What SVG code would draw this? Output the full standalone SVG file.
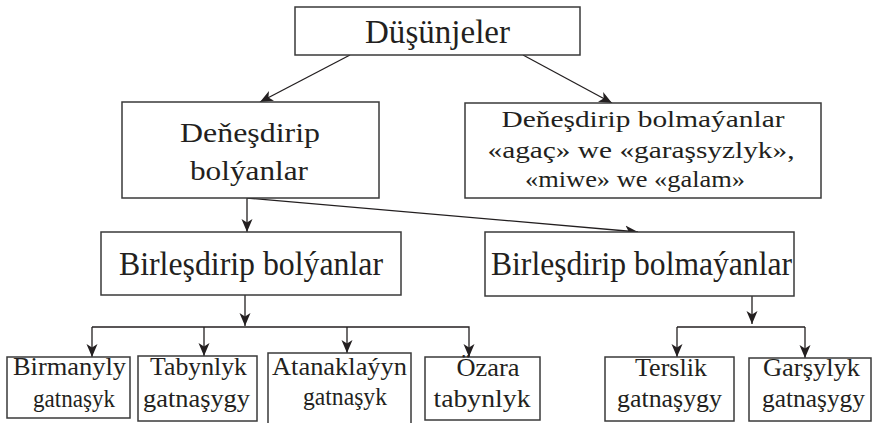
<svg xmlns="http://www.w3.org/2000/svg" width="882" height="423" viewBox="0 0 882 423">
<style>
  .box { fill: #ffffff; stroke: #3a3a3a; stroke-width: 1.5; }
  text { font-family: 'Liberation Serif', 'Times New Roman', serif; fill: #231f20; text-anchor: middle; }
  .big { font-size: 33px; }
  .mid { font-size: 28px; }
  .sm { font-size: 24.5px; }
  .xs { font-size: 24px; }
  .con { fill: none; stroke: #231f20; stroke-width: 1.3; }
</style>
<defs>
  <marker id="arr" markerUnits="userSpaceOnUse" markerWidth="14" markerHeight="12" refX="13" refY="6" orient="auto">
    <path d="M0,0.5 L13,6 L0,11.5 L3.5,6 z" fill="#231f20"/>
  </marker>
</defs>
<rect width="882" height="423" fill="#ffffff"/>

<g id="connectors">
  <line class="con" x1="350" y1="55" x2="260" y2="102" marker-end="url(#arr)"/>
  <line class="con" x1="523" y1="55" x2="612" y2="103" marker-end="url(#arr)"/>
  <line class="con" x1="247" y1="198" x2="247" y2="232" marker-end="url(#arr)"/>
  <line class="con" x1="247" y1="198" x2="638" y2="232" marker-end="url(#arr)"/>
  <line class="con" x1="245" y1="295" x2="245" y2="326" marker-end="url(#arr)"/>
  <polyline class="con" points="92,327 469,327 469,357" marker-end="url(#arr)"/>
  <line class="con" x1="92" y1="327" x2="92" y2="357" marker-end="url(#arr)"/>
  <line class="con" x1="204" y1="327" x2="204" y2="356" marker-end="url(#arr)"/>
  <line class="con" x1="347" y1="327" x2="347" y2="353" marker-end="url(#arr)"/>
  <line class="con" x1="752" y1="296" x2="752" y2="324" marker-end="url(#arr)"/>
  <line class="con" x1="677" y1="327" x2="805" y2="327"/>
  <line class="con" x1="677" y1="327" x2="677" y2="357" marker-end="url(#arr)"/>
  <line class="con" x1="805" y1="327" x2="805" y2="358" marker-end="url(#arr)"/>
</g>

<g id="n-dusunjeler">
  <rect class="box" x="295" y="7" width="285" height="48"/>
  <text class="big" x="437.5" y="43" textLength="145" lengthAdjust="spacingAndGlyphs">Düşünjeler</text>
</g>

<g id="n-denesdirip-bolyanlar">
  <rect class="box" x="122" y="102" width="257" height="96"/>
  <text class="mid" x="250" y="142" textLength="140" lengthAdjust="spacingAndGlyphs">Deňeşdirip</text>
  <text class="mid" x="249" y="180" textLength="118" lengthAdjust="spacingAndGlyphs">bolýanlar</text>
</g>

<g id="n-denesdirip-bolmayanlar">
  <rect class="box" x="465" y="103" width="356" height="95"/>
  <text class="xs" x="643" y="127" textLength="283" lengthAdjust="spacingAndGlyphs">Deňeşdirip bolmaýanlar</text>
  <text class="xs" x="641" y="158" textLength="307" lengthAdjust="spacingAndGlyphs">«agaç» we «garaşsyzlyk»,</text>
  <text class="xs" x="635" y="187" textLength="220" lengthAdjust="spacingAndGlyphs">«miwe» we «galam»</text>
</g>

<g id="n-birlesdirip-bolyanlar">
  <rect class="box" x="101" y="232" width="300" height="63"/>
  <text class="big" x="251" y="275" textLength="264" lengthAdjust="spacingAndGlyphs">Birleşdirip bolýanlar</text>
</g>

<g id="n-birlesdirip-bolmayanlar">
  <rect class="box" x="485" y="232" width="309" height="64"/>
  <text class="big" x="641.5" y="275" textLength="301" lengthAdjust="spacingAndGlyphs">Birleşdirip bolmaýanlar</text>
</g>

<g id="n-birmanyly">
  <rect class="box" x="7" y="357" width="123" height="61"/>
  <text class="sm" x="69.5" y="375" textLength="113" lengthAdjust="spacingAndGlyphs">Birmanyly</text>
  <text class="sm" x="74" y="407" textLength="82" lengthAdjust="spacingAndGlyphs">gatnaşyk</text>
</g>

<g id="n-tabynlyk">
  <rect class="box" x="138" y="356" width="119" height="65"/>
  <text class="sm" x="198.5" y="375" textLength="97" lengthAdjust="spacingAndGlyphs">Tabynlyk</text>
  <text class="sm" x="196.5" y="407" textLength="107" lengthAdjust="spacingAndGlyphs">gatnaşygy</text>
</g>

<g id="n-atanaklayyn">
  <rect class="box" x="268" y="353" width="143" height="80"/>
  <text class="sm" x="339.5" y="375" textLength="135" lengthAdjust="spacingAndGlyphs">Atanaklaýyn</text>
  <text class="sm" x="345" y="405" textLength="84" lengthAdjust="spacingAndGlyphs">gatnaşyk</text>
</g>

<g id="n-ozara">
  <rect class="box" x="425" y="357" width="115" height="63"/>
  <text class="sm" x="488" y="376" textLength="63" lengthAdjust="spacingAndGlyphs">Özara</text>
  <text class="sm" x="482" y="407" textLength="97" lengthAdjust="spacingAndGlyphs">tabynlyk</text>
</g>

<g id="n-terslik">
  <rect class="box" x="605" y="357" width="129" height="64"/>
  <text class="sm" x="671" y="376" textLength="72" lengthAdjust="spacingAndGlyphs">Terslik</text>
  <text class="sm" x="669.5" y="407" textLength="105" lengthAdjust="spacingAndGlyphs">gatnaşygy</text>
</g>

<g id="n-garsylyk">
  <rect class="box" x="749" y="358" width="122" height="63"/>
  <text class="sm" x="811.5" y="376" textLength="97" lengthAdjust="spacingAndGlyphs">Garşylyk</text>
  <text class="sm" x="813.5" y="407" textLength="103" lengthAdjust="spacingAndGlyphs">gatnaşygy</text>
</g>
</svg>
